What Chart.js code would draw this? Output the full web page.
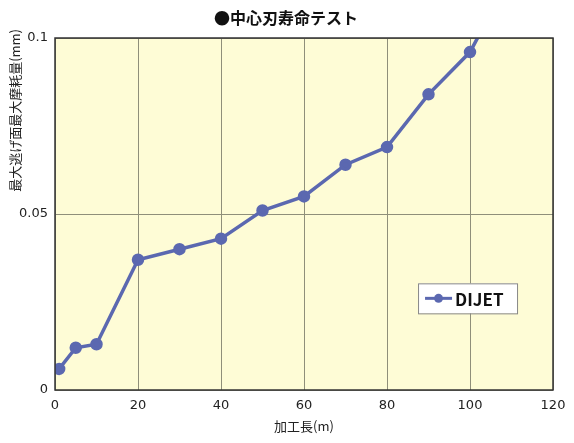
<!DOCTYPE html>
<html>
<head>
<meta charset="utf-8">
<script src="https://cdn.jsdelivr.net/npm/chart.js@4/dist/chart.umd.min.js"></script>
<style>
  html, body { margin: 0; padding: 0; background: #fff; }
  #wrap { width: 574px; height: 443px; }
</style>
</head>
<body>
<div id="wrap"><canvas id="wearChart"></canvas></div>
<script>
// values
const lengths = [1, 5, 10, 20, 30, 40, 50, 60, 70, 80, 90, 100, 105];
const wear = [0.006, 0.012, 0.013, 0.037, 0.040, 0.043, 0.051, 0.055, 0.064, 0.069, 0.084, 0.096, 0.107];
const seriesName = 'DIJET';
const chartTitle = '●中心刃寿命テスト';
const xTitle = '加工長(m)';
const yTitle = '最大逃げ面最大摩耗量(mm)';

const lineColor = '#5b68b0';
const jpFont = "'Noto Sans CJK JP', 'Noto Sans', sans-serif";
const numFont = "'DejaVu Sans', sans-serif";

// yellow plot background + frame
const plotFrame = {
    id: 'plotFrame',
    beforeDraw(chart) {
        const { ctx, chartArea: a } = chart;
        ctx.save();
        ctx.fillStyle = '#fefcd6';
        ctx.fillRect(a.left, a.top, a.right - a.left, a.bottom - a.top);
        ctx.restore();
    },
    afterDraw(chart) {
        const { ctx, chartArea: a } = chart;
        ctx.save();
        ctx.strokeStyle = '#333';
        ctx.lineWidth = 1.5;
        ctx.strokeRect(a.left, a.top, a.right - a.left, a.bottom - a.top);
        ctx.restore();
    }
};

// title and rotated y title, placed like the original
const titles = {
    id: 'titles',
    afterDraw(chart) {
        const { ctx } = chart;
        ctx.save();
        ctx.fillStyle = '#111';
        ctx.font = 'bold 16px ' + jpFont;
        ctx.textAlign = 'center';
        ctx.textBaseline = 'middle';
        ctx.fillText(chartTitle, 286, 18);

        ctx.fillStyle = '#222';
        ctx.font = '13px ' + jpFont;
        ctx.translate(15, 29);
        ctx.rotate(-Math.PI / 2);
        ctx.textAlign = 'right';
        ctx.fillText(yTitle, 0, 0);
        ctx.restore();
    }
};

// legend box drawn inside the plot area
const boxLegend = {
    id: 'boxLegend',
    afterDraw(chart) {
        const { ctx, chartArea: a } = chart;
        const ds = chart.data.datasets[0];
        const x = a.left + (a.right - a.left) * 0.729;
        const y = a.top + (a.bottom - a.top) * 0.697;
        const w = 99, h = 30;
        ctx.save();
        ctx.fillStyle = '#fff';
        ctx.fillRect(x, y, w, h);
        ctx.strokeStyle = '#888';
        ctx.lineWidth = 1;
        ctx.strokeRect(x + 0.5, y + 0.5, w, h);
        ctx.strokeStyle = ds.borderColor;
        ctx.lineWidth = 3;
        ctx.beginPath();
        ctx.moveTo(x + 7, y + h / 2);
        ctx.lineTo(x + 34, y + h / 2);
        ctx.stroke();
        ctx.fillStyle = ds.borderColor;
        ctx.beginPath();
        ctx.arc(x + 20.5, y + h / 2, 4.5, 0, Math.PI * 2);
        ctx.fill();
        ctx.fillStyle = '#111';
        ctx.font = 'bold 17px ' + jpFont;
        ctx.textBaseline = 'middle';
        ctx.fillText(ds.label, x + 37, y + h / 2 + 1);
        ctx.restore();
    }
};

new Chart(document.getElementById('wearChart'), {
    type: 'line',
    data: {
        datasets: [{
            label: seriesName,
            data: lengths.map((v, i) => ({ x: v, y: wear[i] })),
            borderColor: lineColor,
            backgroundColor: lineColor,
            borderWidth: 3.5,
            pointRadius: 4.5,
            pointHoverRadius: 4.5,
            tension: 0,
            clip: 0
        }]
    },
    options: {
        responsive: true,
        maintainAspectRatio: false,
        animation: false,
        layout: { padding: { left: 0, right: 21, top: 38, bottom: 0 } },
        plugins: {
            legend: { display: false },
            tooltip: { enabled: false },
            title: { display: false }
        },
        scales: {
            x: {
                type: 'linear',
                min: 0,
                max: 120,
                border: { display: false },
                grid: { color: '#8f8f7a', lineWidth: 1, drawTicks: false },
                ticks: {
                    stepSize: 20,
                    padding: 8,
                    color: '#222',
                    font: { family: numFont, size: 13 }
                },
                title: {
                    display: true,
                    text: xTitle,
                    color: '#222',
                    font: { family: jpFont, size: 13 },
                    padding: { top: 0, bottom: 9 }
                },
                afterFit(scale) { scale.height = 53; }
            },
            y: {
                min: 0,
                max: 0.1,
                border: { display: false },
                grid: { color: '#8f8f7a', lineWidth: 1, drawTicks: false },
                ticks: {
                    stepSize: 0.05,
                    padding: 7,
                    color: '#222',
                    font: { family: numFont, size: 13 },
                    callback: (v) => String(+v.toFixed(2))
                },
                title: { display: false },
                afterFit(scale) { scale.width = 55; }
            }
        }
    },
    plugins: [plotFrame, titles, boxLegend]
});
</script>
</body>
</html>
